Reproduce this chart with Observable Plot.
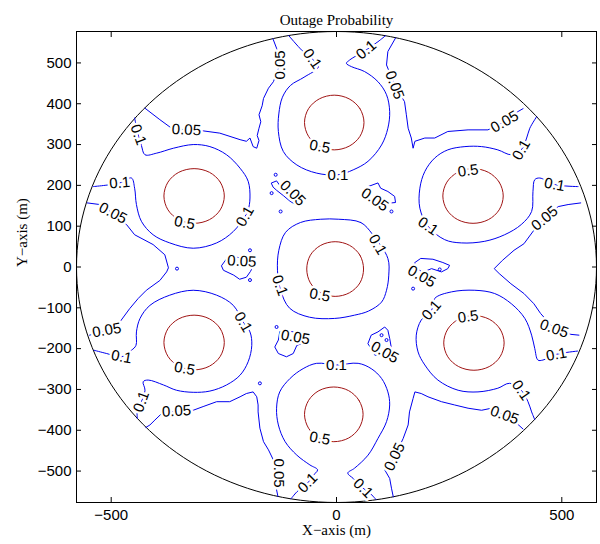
<!DOCTYPE html>
<html><head><meta charset="utf-8">
<script src="https://cdn.jsdelivr.net/npm/d3@7"></script>
<script src="https://cdn.jsdelivr.net/npm/@observablehq/plot@0.6"></script>
<style>body{margin:0;background:#fff;} svg{display:block}</style>
</head><body><div id="chart"></div>
<script>
// ---- axis ticks / levels ----
const xTicks = [-500, 0, 500];
const yTicks = [-500, -400, -300, -200, -100, 0, 100, 200, 300, 400, 500];
const levels = [0.05, 0.1, 0.5];
const levelColors = ["#0000f0", "#0000f0", "#a01414"];
const boundaryRadius = 577;

// ---- 0.5 contours (closed) ----
const ring05_C  = [[60,-5],[52,29],[29,53],[-3,62],[-35,53],[-58,29],[-66,-5],[-58,-39],[-35,-63],[-3,-72],[29,-63],[52,-39]];
const ring05_T  = [[61,354],[52,388],[28,412],[-5,421],[-38,412],[-62,388],[-71,354],[-62,320],[-38,296],[-5,287],[28,296],[52,320]];
const ring05_UL = [[-249,174],[-258,208],[-282,232],[-316,241],[-350,232],[-374,208],[-383,174],[-374,140],[-350,116],[-316,107],[-282,116],[-258,140]];
const ring05_UR = [[370,174],[361,208],[337,232],[303,241],[269,232],[245,208],[236,174],[245,140],[269,116],[303,107],[337,116],[361,140]];
const ring05_LL = [[-249,-185],[-258,-151],[-282,-127],[-316,-118],[-350,-127],[-374,-151],[-383,-185],[-374,-219],[-350,-243],[-316,-252],[-282,-243],[-258,-219]];
const ring05_LR = [[372,-186],[363,-152],[339,-128],[305,-119],[271,-128],[247,-152],[238,-186],[247,-220],[271,-244],[305,-253],[339,-244],[363,-220]];
const ring05_B  = [[59,-361],[50,-327],[27,-303],[-6,-294],[-39,-303],[-62,-327],[-71,-361],[-62,-395],[-39,-419],[-6,-428],[27,-419],[50,-395]];

// ---- 0.1 contours ----
const ring01_C = [[5,117],[54,109],[80,80],[114,21],[116,-20],[111,-57],[100,-86],[71,-108],[40,-118],[-4,-126],[-60,-123],[-104,-101],[-124,-57],[-131,-8],[-128,41],[-113,85],[-80,109],[-35,117]];
const line01_UL = [[-448,365],[-440,324],[-433,298],[-425,275],[-399,279],[-362,291],[-318,300],[-281,295],[-244,275],[-214,242],[-196,210],[-192,169],[-196,140],[-203,124],[-229,87],[-266,59],[-318,46],[-370,59],[-407,79],[-433,112],[-444,153],[-448,193],[-455,218],[-481,206],[-540,197]];
const line01_T = [[-106,567],[-76,530],[-54,510],[-40,491],[-72,465],[-102,445],[-120,416],[-128,375],[-129,332],[-118,283],[-88,250],[-44,230],[3,226],[37,238],[70,259],[100,299],[114,340],[118,381],[111,422],[92,454],[62,479],[33,491],[22,499],[29,507],[66,532],[92,552],[109,567]];
const line01_UR = [[444,368],[429,340],[422,316],[410,287],[388,275],[358,287],[322,295],[285,295],[247,287],[218,267],[196,234],[185,193],[185,144],[203,100],[240,67],[277,59],[329,63],[373,79],[410,104],[433,136],[436,185],[440,214],[451,218],[484,202],[536,197]];
const line01_LR = [[535,-206],[488,-214],[458,-228],[447,-228],[440,-200],[433,-167],[418,-126],[388,-90],[351,-65],[307,-57],[255,-61],[218,-77],[211,-106],[188,-130],[177,-167],[181,-208],[196,-240],[225,-277],[270,-302],[314,-306],[358,-297],[384,-285],[410,-302],[425,-330],[433,-355],[440,-374]];
const line01_B = [[88,-570],[74,-554],[59,-542],[37,-518],[25,-505],[40,-493],[70,-461],[92,-420],[111,-379],[118,-338],[114,-306],[100,-273],[77,-249],[48,-236],[0,-240],[-44,-236],[-74,-249],[-103,-273],[-126,-306],[-133,-346],[-129,-387],[-114,-428],[-88,-461],[-59,-485],[-42,-497],[-53,-512],[-64,-529],[-88,-551],[-101,-568]];
const line01_LL = [[-442,-371],[-442,-351],[-433,-330],[-425,-302],[-429,-281],[-418,-277],[-384,-289],[-355,-302],[-318,-307],[-281,-304],[-244,-289],[-214,-265],[-196,-232],[-188,-192],[-192,-159],[-207,-135],[-229,-94],[-266,-69],[-318,-57],[-370,-69],[-414,-94],[-436,-126],[-444,-159],[-445,-192],[-455,-204],[-477,-220],[-510,-212],[-538,-204]];

// ---- 0.05 contours ----
const line005_ULT = [[-425,389],[-392,361],[-366,340],[-333,336],[-299,334],[-259,328],[-214,312],[-200,308],[-192,316],[-185,295],[-177,291],[-172,310],[-176,322],[-172,340],[-168,356],[-172,373],[-165,395],[-162,413],[-151,438],[-140,454],[-126,495],[-133,536],[-141,559]];
const line005_TUR = [[131,561],[114,528],[111,495],[129,446],[151,405],[155,373],[159,340],[166,316],[170,291],[174,308],[196,316],[218,316],[247,332],[292,336],[336,336],[373,356],[403,381],[414,388]];
const line005_URLR = [[542,157],[514,153],[492,148],[462,119],[438,90],[416,57],[394,41],[368,16],[350,-4],[361,-16],[387,-41],[416,-65],[438,-90],[453,-114],[483,-151],[520,-165],[538,-167]];
const line005_LRB = [[414,-397],[396,-379],[373,-363],[344,-346],[322,-351],[292,-346],[262,-338],[233,-330],[203,-318],[188,-310],[174,-306],[170,-322],[162,-355],[159,-387],[148,-420],[129,-465],[107,-497],[118,-518],[122,-542],[126,-563]];
const line005_BLL = [[-130,-562],[-133,-546],[-129,-505],[-140,-473],[-151,-448],[-162,-428],[-170,-395],[-174,-355],[-174,-338],[-177,-318],[-185,-306],[-200,-310],[-214,-318],[-237,-330],[-266,-330],[-296,-342],[-318,-351],[-355,-353],[-388,-359],[-403,-375],[-414,-387],[-423,-393]];
const line005_LLUL = [[-553,157],[-525,153],[-496,132],[-466,104],[-448,79],[-407,55],[-381,30],[-373,-2],[-377,-12],[-392,-33],[-422,-57],[-440,-77],[-459,-102],[-481,-135],[-510,-155],[-548,-167]];
const island005_UL = [[-144,206],[-133,211],[-126,200],[-111,193],[-95,178],[-80,163],[-74,153],[-85,149],[-103,161],[-118,175],[-133,188],[-140,195]];
const island005_UR = [[62,185],[70,197],[92,206],[98,193],[114,185],[129,173],[131,158],[122,157],[109,163],[94,153],[80,163]];
const island005_L  = [[-255,2],[-251,-8],[-228,-20],[-215,-30],[-200,-25],[-191,-11],[-184,4],[-195,19],[-222,24],[-244,19]];
const island005_R  = [[174,11],[187,21],[214,19],[236,11],[251,4],[247,-4],[233,-12],[211,-4],[191,-13],[178,-3]];
const island005_LL = [[-126,-159],[-129,-179],[-137,-196],[-129,-212],[-111,-220],[-96,-212],[-88,-192],[-66,-183],[-80,-162],[-106,-157]];
const island005_LR = [[70,-187],[77,-167],[92,-159],[107,-147],[114,-155],[118,-175],[122,-200],[109,-216],[85,-216],[77,-200]];
const specks005 = [[-135,226],[-144,181],[-124,136],[122,136],[-192,-32],[-192,41],[229,-6],[170,-53],[-111,-179],[-133,-147],[100,-167],[111,-179],[-354,-4],[-170,-285]];

// ---- contour labels: [text, x, y, angle] ----
const contourLabels = [
  ["0.5",-337,108,10],["0.5",-37,295,10],["0.5",-37,-69,10],["0.5",-337,-249,10],["0.5",-37,-420,10],["0.5",292,236,-8],["0.5",292,-122,-8],
  ["0.1",-440,324,70],["0.1",-481,206,-5],["0.1",-203,124,-60],["0.1",-54,510,55],["0.1",66,532,-40],["0.1",3,226,0],
  ["0.1",410,287,-60],["0.1",203,100,35],["0.1",484,202,10],["0.1",91,55,60],["0.1",-126,-45,70],["0.1",-207,-135,60],
  ["0.1",-433,-330,-70],["0.1",-477,-220,10],["0.1",0,-240,0],["0.1",59,-542,45],["0.1",-64,-529,-45],["0.1",211,-106,-50],
  ["0.1",410,-302,55],["0.1",488,-214,-10],
  ["0.05",-333,336,3],["0.05",-126,495,-90],["0.05",129,446,70],["0.05",373,356,-30],["0.05",462,119,-40],["0.05",483,-151,20],
  ["0.05",373,-363,20],["0.05",129,-465,-65],["0.05",-129,-505,90],["0.05",-355,-353,-3],["0.05",-510,-155,-10],["0.05",-496,132,28],
  ["0.05",-97,181,45],["0.05",85,165,35],["0.05",-210,14,3],["0.05",189,-23,30],["0.05",-91,-172,10],["0.05",107,-209,30]
];

const titleText = "Outage Probability";
const xLabelText = "X\u2212axis (m)";
const yLabelText = "Y\u2212axis (m)";

// ---- build tables ----
const smoothClosed = [
  {level:0.5, pts:ring05_C},{level:0.5, pts:ring05_T},{level:0.5, pts:ring05_UL},{level:0.5, pts:ring05_UR},
  {level:0.5, pts:ring05_LL},{level:0.5, pts:ring05_LR},{level:0.5, pts:ring05_B},{level:0.1, pts:ring01_C}
];
const smoothOpen = [line01_UL, line01_T, line01_UR, line01_LR, line01_B, line01_LL].map(p => ({level:0.1, pts:p}));
const jaggedOpen = [line005_ULT, line005_TUR, line005_URLR, line005_LRB, line005_BLL, line005_LLUL].map(p => ({level:0.05, pts:p}));
const jaggedClosed = [island005_UL, island005_UR, island005_L, island005_R, island005_LL, island005_LR].map(p => ({level:0.05, pts:p}));
function rows(list) { return list.flatMap((c, i) => c.pts.map(([x, y]) => ({id: i, level: c.level, x, y}))); }
const boundary = d3.range(0, 361, 2).map(a => ({x: boundaryRadius * Math.cos(a * Math.PI / 180), y: boundaryRadius * Math.sin(a * Math.PI / 180)}));
const labelRows = contourLabels.map(([t, x, y, a]) => ({t, x, y, a}));
const speckRows = specks005.map(([x, y]) => ({x, y}));

const sans = "Liberation Sans, Arial, Helvetica, sans-serif";
const serif = "Liberation Serif, Times New Roman, serif";

const chart = Plot.plot({
  width: 600, height: 544,
  marginLeft: 76, marginRight: 4, marginTop: 31, marginBottom: 42,
  x: {domain: [-boundaryRadius, boundaryRadius]},
  y: {domain: [-boundaryRadius, boundaryRadius]},
  color: {type: "ordinal", domain: levels, range: levelColors},
  style: {fontFamily: sans, color: "black", background: "white", overflow: "visible"},
  marks: [
    Plot.line(boundary, {x: "x", y: "y", stroke: "black", strokeWidth: 1}),
    Plot.line(rows(smoothClosed), {x: "x", y: "y", z: "id", stroke: "level", strokeWidth: 1, curve: "catmull-rom-closed"}),
    Plot.line(rows(smoothOpen), {x: "x", y: "y", z: "id", stroke: "level", strokeWidth: 1, curve: "catmull-rom"}),
    Plot.line(rows(jaggedOpen), {x: "x", y: "y", z: "id", stroke: "level", strokeWidth: 1, curve: "linear"}),
    Plot.line(rows(jaggedClosed), {x: "x", y: "y", z: "id", stroke: "level", strokeWidth: 1, curve: "linear-closed"}),
    Plot.dot(speckRows, {x: "x", y: "y", r: 1.5, stroke: levelColors[0], fill: "none", strokeWidth: 1}),
    Plot.text(labelRows, {x: "x", y: "y", text: "t", rotate: "a", fontSize: 15, fontFamily: sans, fill: "black",
      stroke: "white", strokeWidth: 5, paintOrder: "stroke"}),
    Plot.frame({stroke: "black", strokeWidth: 1}),
    Plot.axisX({ticks: xTicks, anchor: "bottom", tickSize: 0, tickPadding: 7, fontSize: 15, label: null}),
    Plot.axisX({ticks: xTicks, anchor: "bottom", tickSize: -5, tickFormat: () => "", label: null}),
    Plot.axisX({ticks: xTicks, anchor: "top", tickSize: -5, tickFormat: () => "", label: null}),
    Plot.axisY({ticks: yTicks, anchor: "left", tickSize: 0, tickPadding: 5, fontSize: 15, label: null}),
    Plot.axisY({ticks: yTicks, anchor: "left", tickSize: -5, tickFormat: () => "", label: null}),
    Plot.axisY({ticks: yTicks, anchor: "right", tickSize: -5, tickFormat: () => "", label: null}),
    Plot.text([titleText], {frameAnchor: "top", dy: -17.5, fontSize: 15, fontFamily: serif, fill: "black"}),
    Plot.text([xLabelText], {frameAnchor: "bottom", dy: 32.5, fontSize: 15, fontFamily: serif, fill: "black"}),
    Plot.text([yLabelText], {frameAnchor: "left", dx: -54.5, rotate: -90, fontSize: 15, fontFamily: serif, fill: "black"})
  ]
});
document.getElementById("chart").append(chart);
</script></body></html>
